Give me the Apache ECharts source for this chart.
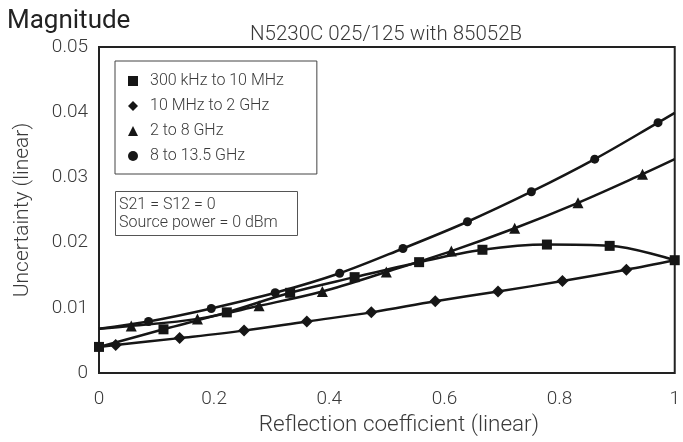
<!DOCTYPE html>
<html>
<head>
<meta charset="utf-8">
<script src="https://cdn.jsdelivr.net/npm/echarts@6/dist/echarts.min.js"></script>
<style>
html, body { margin: 0; padding: 0; background: #fff; }
#chart1 { width: 683px; height: 442px; }
</style>
</head>
<body>
<div id="chart1"></div>
<script>
// 图例名称
var seriesNames = ['300 kHz to 10 MHz', '10 MHz to 2 GHz', '2 to 8 GHz', '8 to 13.5 GHz'];
var seriesSymbols = ['rect', 'diamond', 'triangle', 'circle'];

// 坐标轴刻度
var xTicks = [0, 0.2, 0.4, 0.6, 0.8, 1];
var yTicks = [0, 0.01, 0.02, 0.03, 0.04, 0.05];

// 300 kHz to 10 MHz (方块)
var squareX = [0, 0.112, 0.222, 0.332, 0.444, 0.556, 0.666, 0.778, 0.887, 1.0];
var squareY = [0.0040, 0.0067, 0.0093, 0.0123, 0.0147, 0.0170, 0.0189, 0.0197, 0.0195, 0.0173];
var squareEnds = [null, null];

// 10 MHz to 2 GHz (菱形)
var diamondX = [0.029, 0.140, 0.252, 0.361, 0.473, 0.584, 0.693, 0.805, 0.916];
var diamondY = [0.0043, 0.00535, 0.0065, 0.0079, 0.0093, 0.0110, 0.0125, 0.0141, 0.01585];
var diamondEnds = [0.0040, 0.0173];

// 2 to 8 GHz (三角)
var triangleX = [0.056, 0.171, 0.278, 0.388, 0.499, 0.612, 0.722, 0.832, 0.944];
var triangleY = [0.0072, 0.0083, 0.0103, 0.0125, 0.0155, 0.0187, 0.0222, 0.0261, 0.0305];
var triangleEnds = [0.0068, 0.0328];

// 8 to 13.5 GHz (圆点)
var circleX = [0.086, 0.195, 0.306, 0.418, 0.528, 0.640, 0.751, 0.861, 0.971];
var circleY = [0.0079, 0.0099, 0.0123, 0.0153, 0.0191, 0.0232, 0.0278, 0.0328, 0.0384];
var circleEnds = [0.0068, 0.0399];

var fontName = 'Roboto, "Noto Sans", sans-serif';
var textColor = '#3a3a3a';

// 拼数据: 两端只画线不画点
function setLine_data(xs, ys, ends) {
	var data = [];
	if(ends[0] !== null) {
		data.push({ value: [xTicks[0], ends[0]], symbol: 'none' });
	}
	for(var i = 0; i < xs.length; i++) {
		data.push([xs[i], ys[i]]);
	}
	if(ends[1] !== null) {
		data.push({ value: [xTicks[xTicks.length - 1], ends[1]], symbol: 'none' });
	}
	return data;
}

function makeSeries(idx, data, size) {
	return {
		name: seriesNames[idx],
		type: 'line',
		smooth: 0.35,
		symbol: seriesSymbols[idx],
		symbolSize: size,
		showAllSymbol: true,
		lineStyle: { color: '#161616', width: 2.5 },
		itemStyle: { color: '#161616' },
		data: data
	};
}

var myChart = echarts.init(document.getElementById('chart1'), null, { renderer: 'canvas' });
myChart.setOption({
	animation: false,
	title: [{
		text: 'Magnitude',
		left: 7,
		top: 8,
		padding: 0,
		textStyle: { fontFamily: fontName, fontSize: 26, fontWeight: 400, color: '#222' }
	}, {
		text: 'N5230C 025/125 with 85052B',
		left: 250,
		top: 24,
		padding: 0,
		textStyle: { fontFamily: fontName, fontSize: 20.5, fontWeight: 300, color: textColor }
	}, {
		text: 'S21 = S12 = 0\nSource power = 0 dBm',
		left: 115,
		top: 191,
		padding: [5, 20, 4, 4],
		borderColor: '#555',
		borderWidth: 1,
		textStyle: { fontFamily: fontName, fontSize: 16, fontWeight: 300, color: textColor, lineHeight: 18 }
	}],
	legend: {
		orient: 'vertical',
		left: 115,
		top: 61,
		padding: [12, 33, 10, 13],
		itemGap: 9,
		itemWidth: 10,
		itemHeight: 10,
		symbolKeepAspect: true,
		borderColor: '#444',
		borderWidth: 1,
		data: seriesNames.map(function(n, i) {
			return { name: n, icon: seriesSymbols[i] };
		}),
		textStyle: { fontFamily: fontName, fontSize: 16, fontWeight: 300, color: textColor, padding: [0, 0, 0, 7] }
	},
	grid: {
		left: 99,
		right: 2,
		top: 47,
		bottom: 69,
		show: true,
		borderColor: '#222',
		borderWidth: 2
	},
	xAxis: {
		type: 'value',
		min: xTicks[0],
		max: xTicks[xTicks.length - 1],
		interval: 0.2,
		name: 'Reflection coefficient (linear)',
		nameLocation: 'middle',
		nameGap: 39,
		nameTextStyle: { fontFamily: fontName, fontSize: 22.5, fontWeight: 300, color: textColor, padding: [0, 0, 0, 24] },
		axisLine: { show: false },
		axisTick: { show: false },
		splitLine: { show: false },
		axisLabel: { margin: 17, fontFamily: fontName, fontSize: 19, fontWeight: 300, color: textColor }
	},
	yAxis: {
		type: 'value',
		min: yTicks[0],
		max: yTicks[yTicks.length - 1],
		interval: 0.01,
		name: 'Uncertainty (linear)',
		nameLocation: 'middle',
		nameGap: 66,
		nameTextStyle: { fontFamily: fontName, fontSize: 21, fontWeight: 300, color: textColor },
		axisLine: { show: false },
		axisTick: { show: false },
		splitLine: { show: false },
		axisLabel: { margin: 11, fontFamily: fontName, fontSize: 19, fontWeight: 300, color: textColor }
	},
	series: [
		makeSeries(0, setLine_data(squareX, squareY, squareEnds), 10),
		makeSeries(1, setLine_data(diamondX, diamondY, diamondEnds), 12),
		makeSeries(2, setLine_data(triangleX, triangleY, triangleEnds), 11),
		makeSeries(3, setLine_data(circleX, circleY, circleEnds), 9)
	]
});
</script>
</body>
</html>
